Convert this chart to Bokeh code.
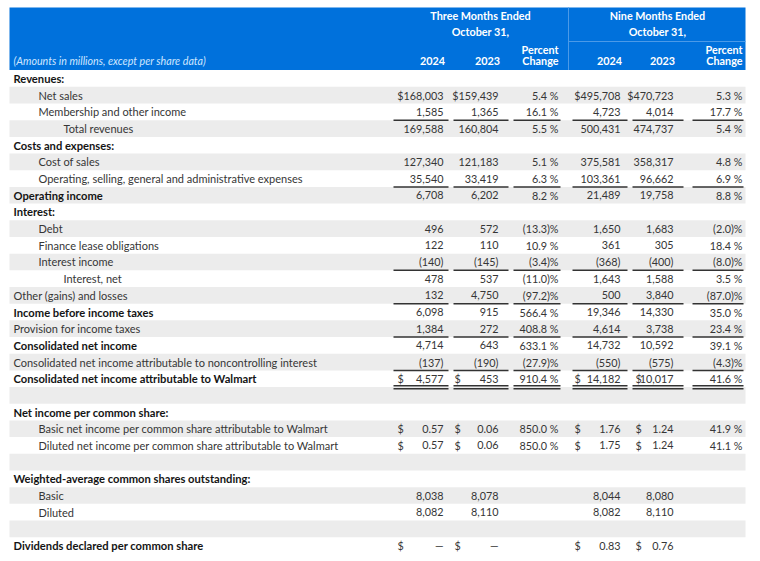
from bokeh.plotting import figure
from bokeh.models import Range1d, ColumnDataSource
from bokeh.embed import file_html
from bokeh.resources import INLINE
from bokeh.core.properties import value

# ---------------- data ----------------
labels = [
    "Revenues:", "Net sales", "Membership and other income", "Total revenues",
    "Costs and expenses:", "Cost of sales",
    "Operating, selling, general and administrative expenses", "Operating income",
    "Interest:", "Debt", "Finance lease obligations", "Interest income", "Interest, net",
    "Other (gains) and losses", "Income before income taxes", "Provision for income taxes",
    "Consolidated net income",
    "Consolidated net income attributable to noncontrolling interest",
    "Consolidated net income attributable to Walmart", "",
    "Net income per common share:",
    "Basic net income per common share attributable to Walmart",
    "Diluted net income per common share attributable to Walmart", "",
    "Weighted-average common shares outstanding:", "Basic", "Diluted", "",
    "Dividends declared per common share",
]
q3_2024 = [None, 168003, 1585, 169588, None, 127340, 35540, 6708, None, 496, 122, -140, 478,
           132, 6098, 1384, 4714, -137, 4577, None, None, 0.57, 0.57, None, None, 8038, 8082, None, 0]
q3_2023 = [None, 159439, 1365, 160804, None, 121183, 33419, 6202, None, 572, 110, -145, 537,
           4750, 915, 272, 643, -190, 453, None, None, 0.06, 0.06, None, None, 8078, 8110, None, 0]
q3_pct = [None, 5.4, 16.1, 5.5, None, 5.1, 6.3, 8.2, None, -13.3, 10.9, -3.4, -11.0,
          -97.2, 566.4, 408.8, 633.1, -27.9, 910.4, None, None, 850.0, 850.0, None, None, None, None, None, None]
ytd_2024 = [None, 495708, 4723, 500431, None, 375581, 103361, 21489, None, 1650, 361, -368, 1643,
            500, 19346, 4614, 14732, -550, 14182, None, None, 1.76, 1.75, None, None, 8044, 8082, None, 0.83]
ytd_2023 = [None, 470723, 4014, 474737, None, 358317, 96662, 19758, None, 1683, 305, -400, 1588,
            3840, 14330, 3738, 10592, -575, 10017, None, None, 1.24, 1.24, None, None, 8080, 8110, None, 0.76]
ytd_pct = [None, 5.3, 17.7, 5.4, None, 4.8, 6.9, 8.8, None, -2.0, 18.4, -8.0, 3.5,
           -87.0, 35.0, 23.4, 39.1, -4.3, 41.6, None, None, 41.9, 41.1, None, None, None, None, None, None]

period_titles = ["Three Months Ended", "Nine Months Ended"]
period_date = "October 31,"
year_heads = ["2024", "2023"]
pct_head = ["Percent", "Change"]
note = "(Amounts in millions, except per share data)"

# ---------------- layout / style ----------------
indent = [0, 1, 1, 2, 0, 1, 1, 0, 0, 1, 1, 1, 2, 0, 0, 0, 0, 0, 0, 0, 0, 1, 1, 0, 0, 1, 1, 0, 0]
bold_rows = {0, 4, 7, 8, 14, 16, 18, 20, 24, 28}
attached_dollar = {1}
separate_dollar = {18, 21, 22, 28}
per_share_rows = {21, 22, 28}
single_rules = [2, 6, 11, 13, 15, 17]
double_rules = [18]

BLUE = "#0071dc"
SHADE = "#ececec"
TXT = "#363636"
DARK = "#141414"
FONT = "Lato"
FS_LABEL = "11px"
FS_NUM = "10.8px"

ROW0, ROWH = 78.0, 16.68
TL, TR = 9, 745
col_right = [443, 498, 558, 620, 673, 742]
dollar_x = [397, 454, None, 574, 635, None]
rule_spans = [(393, 448), (453, 508), (513, 560), (572, 627), (632, 683), (692, 743)]
indent_x = [13, 38, 63]

def ry(i):
    return ROW0 + i * ROWH

def fmt_amount(v, row):
    if v is None:
        return ""
    if row in per_share_rows:
        if v == 0:
            return "\u2014"
        return f"{v:.2f}"
    s = f"{abs(v):,}"
    if v < 0:
        s = "(" + s + ")"
    if row in attached_dollar:
        s = "$" + s
    return s

def fmt_pct(v):
    if v is None:
        return ""
    if v < 0:
        return f"({abs(v):.1f})%"
    return f"{v:.1f} %"

p = figure(width=760, height=561, x_range=Range1d(0, 760), y_range=Range1d(561, 0),
           output_backend="svg", toolbar_location=None,
           x_axis_location=None, y_axis_location=None, min_border=0)
p.grid.visible = False
p.outline_line_color = None
p.background_fill_color = "white"
p.border_fill_color = "white"

# header band
p.quad(left=[TL], right=[TR], top=[7], bottom=[69.5], fill_color=BLUE, line_color=None)
p.segment(x0=[568], y0=[7], x1=[568], y1=[69.5], line_color="#4b9ae8", line_width=1)
p.segment(x0=[568], y0=[41], x1=[TR], y1=[41], line_color="#4b9ae8", line_width=1)

# shaded bands
n = len(labels)
sh = [i for i in range(n) if i % 2 == 1]
p.quad(left=[TL] * len(sh), right=[TR] * len(sh),
       top=[ry(i) - ROWH / 2 for i in sh], bottom=[ry(i) + ROWH / 2 for i in sh],
       fill_color=SHADE, line_color=None)

# header texts
hx, hy, ht, ha = [], [], [], []
for k, cx in enumerate([480, 657]):
    hx += [cx, cx]; hy += [15, 31]; ht += [period_titles[k], period_date]; ha += ["center", "center"]
for base in (0, 3):
    for j in range(2):
        c = base + j
        hx.append(col_right[c] - 11); hy.append(60); ht.append(year_heads[j]); ha.append("center")
    hx += [col_right[base + 2], col_right[base + 2]]; hy += [49, 60]; ht += pct_head; ha += ["right", "right"]
p.text(x=hx, y=hy, text=ht, text_align=ha, text_baseline="middle", text_color="white",
       text_font=value(FONT), text_font_size="10.8px", text_font_style="bold")
p.text(x=[13], y=[60], text=[note], text_align="left", text_baseline="middle",
       text_color="#cfe6ff", text_font=value(FONT), text_font_size="10.7px", text_font_style="italic")

# row labels
for isbold in (True, False):
    rows = [i for i in range(n) if labels[i] and ((i in bold_rows) == isbold)]
    p.text(x=[indent_x[indent[i]] for i in rows], y=[ry(i) for i in rows],
           text=[labels[i] for i in rows], text_align="left", text_baseline="middle",
           text_color=DARK if isbold else TXT, text_font=value(FONT),
           text_font_size="11.2px" if isbold else FS_LABEL,
           text_font_style="bold" if isbold else "normal")

# values
cols = [q3_2024, q3_2023, q3_pct, ytd_2024, ytd_2023, ytd_pct]
src_r = {"x": [], "y": [], "t": []}
src_l = {"x": [], "y": [], "t": []}
for c, arr in enumerate(cols):
    for i in range(n):
        v = arr[i]
        if v is None:
            continue
        s = fmt_pct(v) if c in (2, 5) else fmt_amount(v, i)
        src_r["x"].append(col_right[c]); src_r["y"].append(ry(i)); src_r["t"].append(s)
        if i in separate_dollar and dollar_x[c] is not None:
            src_l["x"].append(dollar_x[c]); src_l["y"].append(ry(i)); src_l["t"].append("$")
p.text(x="x", y="y", text="t", source=ColumnDataSource(src_r), text_align="right",
       text_baseline="middle", text_color=TXT, text_font=value(FONT), text_font_size=FS_NUM)
p.text(x="x", y="y", text="t", source=ColumnDataSource(src_l), text_align="left",
       text_baseline="middle", text_color=TXT, text_font=value(FONT), text_font_size=FS_NUM)

# rules
sx0, sx1, sy = [], [], []
for i in single_rules:
    yb = ry(i) + ROWH / 2
    for a, b in rule_spans:
        sx0.append(a); sx1.append(b); sy.append(yb)
for i in double_rules:
    yb = ry(i) + ROWH / 2
    for off in (-1.4, 1.6):
        for a, b in rule_spans:
            sx0.append(a); sx1.append(b); sy.append(yb + off)
p.segment(x0=sx0, y0=sy, x1=sx1, y1=sy, line_color="#333333", line_width=1.5)

open("out.html", "w").write(file_html(p, INLINE))
